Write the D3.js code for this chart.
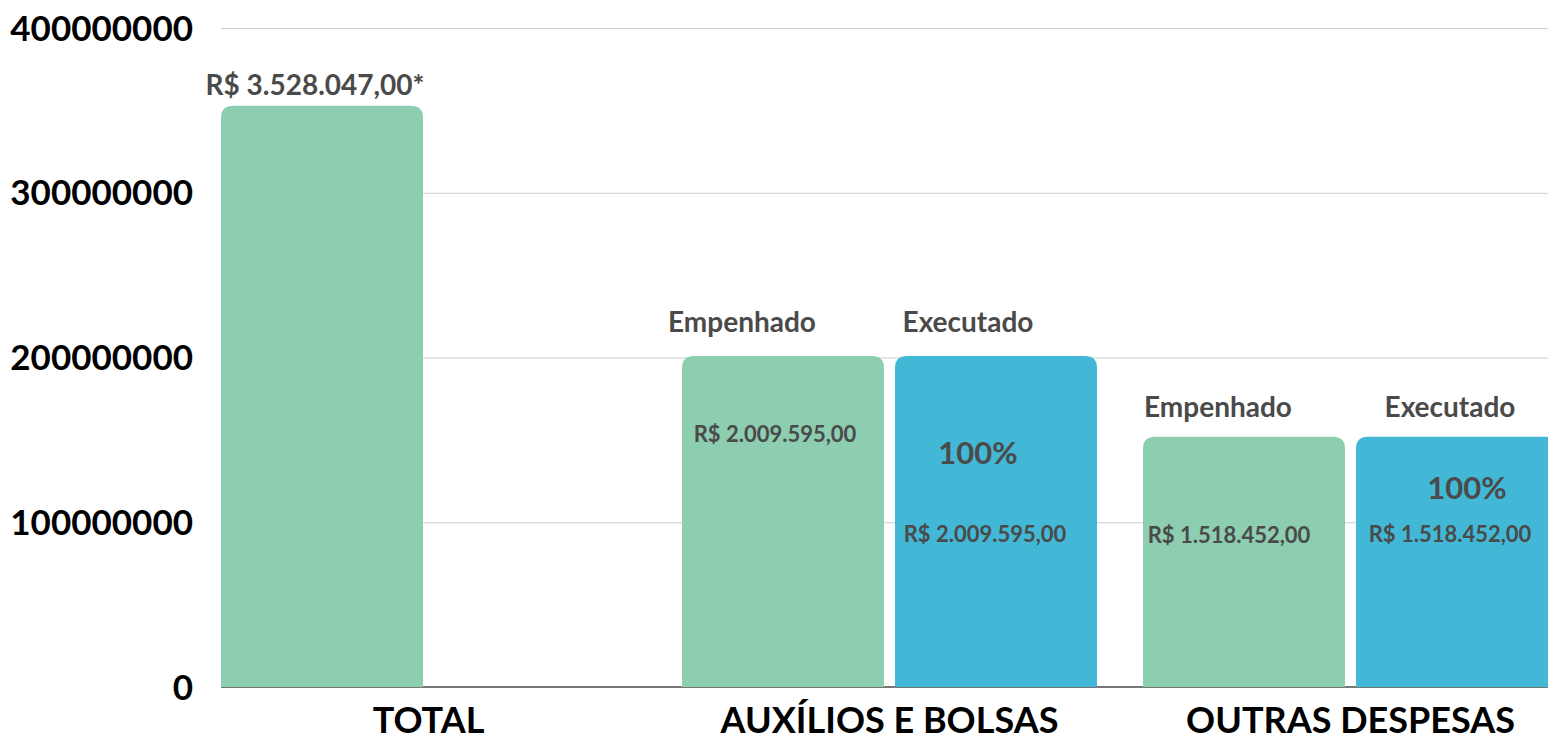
<!DOCTYPE html>
<html>
<head>
<meta charset="utf-8">
<script src="https://cdn.jsdelivr.net/npm/d3@7"></script>
<style>
  html, body { margin: 0; padding: 0; background: #fff; overflow: hidden; }
  svg { display: block; }
</style>
</head>
<body>
<svg id="chart" width="1548" height="742"></svg>
<script>
// ---------- data ---------- //
var categories = ["TOTAL", "AUXÍLIOS E BOLSAS", "OUTRAS DESPESAS"];
var seriesNames = ["Empenhado", "Executado"];
var empenhado = [352804700, 200959500, 151845200];
var executado = [null, 200959500, 151845200];
var empenhadoText = ["R$ 3.528.047,00*", "R$ 2.009.595,00", "R$ 1.518.452,00"];
var executadoText = [null, "R$ 2.009.595,00", "R$ 1.518.452,00"];
var percentText = [null, "100%", "100%"];
var yTicks = [0, 100000000, 200000000, 300000000, 400000000];

// ---------- setup ---------- //
var width = 1548, height = 742;
var green = "#8dcdb0", blue = "#42b7d6", labelColor = "#4a4a4a";
var font = "Lato, 'Open Sans', sans-serif";

var svg = d3.select("#chart");

var y = d3.scaleLinear().domain([0, 400000000]).range([687, 28]);

var x0 = d3.scaleBand()
    .domain(categories)
    .range([221, 1558])
    .paddingInner(46 / 461)
    .paddingOuter(0);

var x1 = d3.scaleBand()
    .domain(seriesNames)
    .range([0, x0.bandwidth()])
    .paddingInner(11 / 213);

// flat table of bars
var bars = [];
categories.forEach(function(c, i) {
  bars.push({cat: c, i: i, series: "Empenhado", value: empenhado[i], text: empenhadoText[i], pct: null});
  if (executado[i] != null)
    bars.push({cat: c, i: i, series: "Executado", value: executado[i], text: executadoText[i], pct: percentText[i]});
});

// label nudges (px from bar centre / bar top), picked by eye
var nudge = {
  "TOTAL|Empenhado":             {head: null,      val: [-7, -11]},
  "AUXÍLIOS E BOLSAS|Empenhado": {head: [-41, -24], val: [-8, 86]},
  "AUXÍLIOS E BOLSAS|Executado": {head: [-28, -24], val: [-11, 186], pct: [-18, 108]},
  "OUTRAS DESPESAS|Empenhado":   {head: [-26, -20], val: [-15, 106]},
  "OUTRAS DESPESAS|Executado":   {head: [-7, -20],  val: [-7, 105],  pct: [10, 62]}
};

// ---------- grid ---------- //
svg.append("g")
  .selectAll("line")
  .data(yTicks.filter(function(t) { return t > 0; }))
  .join("line")
    .attr("x1", 221).attr("x2", width)
    .attr("y1", function(d) { return y(d) + 0.5; })
    .attr("y2", function(d) { return y(d) + 0.5; })
    .attr("stroke", "#cccccc")
    .attr("stroke-width", 1);

svg.append("line")
    .attr("x1", 221).attr("x2", width)
    .attr("y1", y(0)).attr("y2", y(0))
    .attr("stroke", "#777")
    .attr("stroke-width", 2);

// ---------- y axis labels ---------- //
svg.append("g")
  .selectAll("text")
  .data(yTicks)
  .join("text")
    .attr("x", 193)
    .attr("y", function(d) { return y(d); })
    .attr("dy", "0.36em")
    .attr("text-anchor", "end")
    .attr("font-family", font)
    .attr("font-weight", 700)
    .attr("font-size", "35px")
    .attr("fill", "#000")
    .text(function(d) { return d3.format("d")(d); });

// ---------- bars ---------- //
function topRounded(x, yTop, w, yBot, r) {
  return "M" + x + "," + yBot +
    "V" + (yTop + r) +
    "Q" + x + "," + yTop + " " + (x + r) + "," + yTop +
    "H" + (x + w - r) +
    "Q" + (x + w) + "," + yTop + " " + (x + w) + "," + (yTop + r) +
    "V" + yBot + "Z";
}

svg.append("g")
  .selectAll("path")
  .data(bars)
  .join("path")
    .attr("d", function(d) {
      return topRounded(x0(d.cat) + x1(d.series), y(d.value), x1.bandwidth(), y(0), 12);
    })
    .attr("fill", function(d) { return d.series === "Empenhado" ? green : blue; });

// ---------- bar labels ---------- //
var labels = svg.append("g")
    .attr("font-family", font)
    .attr("font-weight", 700)
    .attr("fill", labelColor)
    .attr("text-anchor", "middle");

bars.forEach(function(d) {
  var n = nudge[d.cat + "|" + d.series];
  var cx = x0(d.cat) + x1(d.series) + x1.bandwidth() / 2;
  var top = y(d.value);
  if (n.head) {
    labels.append("text")
      .attr("x", cx + n.head[0]).attr("y", top + n.head[1])
      .attr("font-size", "28px")
      .text(d.series);
  }
  labels.append("text")
    .attr("x", cx + n.val[0]).attr("y", top + n.val[1])
    .attr("font-size", d.cat === "TOTAL" ? "28px" : "22px")
    .text(d.text);
  if (d.pct) {
    labels.append("text")
      .attr("x", cx + n.pct[0]).attr("y", top + n.pct[1])
      .attr("font-size", "31px")
      .text(d.pct);
  }
});

// ---------- category labels ---------- //
svg.append("g")
  .selectAll("text")
  .data(categories)
  .join("text")
    .attr("x", function(d) { return x0(d) + x0.bandwidth() / 2; })
    .attr("y", 733)
    .attr("text-anchor", "middle")
    .attr("font-family", font)
    .attr("font-weight", 700)
    .attr("font-size", "36px")
    .attr("fill", "#000")
    .text(function(d) { return d; });
</script>
</body>
</html>
